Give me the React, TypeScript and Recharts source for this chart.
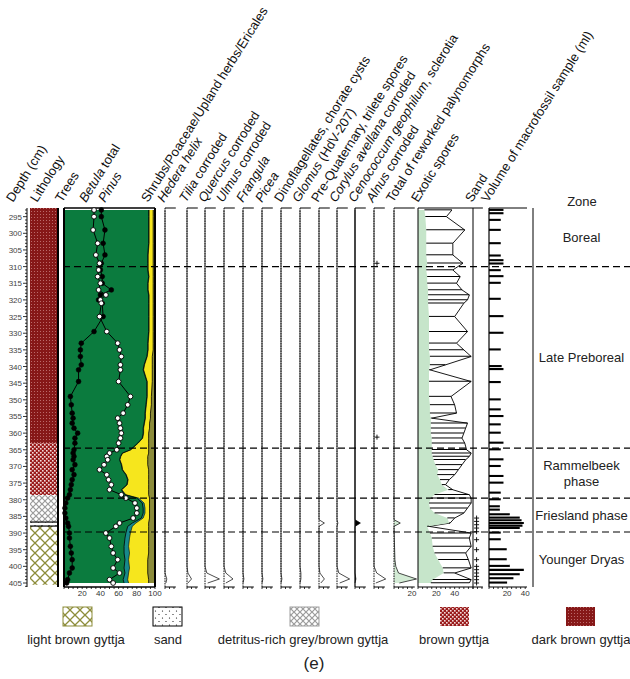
import React from 'react';
import {
  ComposedChart,
  XAxis,
  YAxis,
  Area,
  Line,
  Bar,
  Scatter,
  ReferenceLine
} from 'recharts';

const FONT = '"Liberation Sans", Arial, sans-serif';
const PLOT_TOP = 208;
const PLOT_H = 379;
const AX_TOP = 10;
const AX_BOT = 18;
const DEPTH_DOMAIN: [number, number] = [292.4, 406.2];

const GREEN = '#0b7b3e';
const TEAL = '#17898b';
const YELLOW = '#f6e61d';
const OLIVE = '#8b8b3a';
const MINT = '#c6e5ca';

// pollen samples (depth in cm, values in %)
const DEPTHS = [
  293, 295, 299, 303, 306.5, 309, 311, 313, 315, 317,
  318.5, 320, 321, 325, 329.5, 333, 335, 337, 339.5, 341,
  344.5, 349, 351.5, 354, 355.5, 357, 358.5, 360, 361.5, 363,
  365, 366, 367, 368, 369.5, 371, 372.5, 374, 375.5, 377,
  378.5, 379.5, 381, 382.5, 384, 385.5, 387, 388, 390, 391.5,
  394, 396, 398, 400.5, 402, 404, 405
];
const BETULA = [
  41, 41, 45, 43, 45, 41, 40, 42, 42, 52,
  40, 38, 42, 43, 33, 19, 18, 18, 19, 16,
  16, 7, 8, 9, 10, 9, 11, 15, 12, 12,
  11, 10, 11, 10, 12, 9, 11, 9, 8, 7,
  6, 4, 2, 1, 1, 2, 4, 5, 6, 6,
  7, 8, 9, 9, 6, 4, 3
];
const PINUS = [
  33, 33, 32, 37, 35, 39, 38, 37, 40, 38,
  46, 40, 41, 39, 47, 59, 61, 63, 62, 62,
  60, 73, 70, 65, 59, 61, 62, 63, 62, 60,
  58, 50, 47, 48, 44, 39, 47, 49, 52, 50,
  63, 68, 78, 80, 80, 76, 61, 57, 46, 50,
  52, 54, 59, 54, 61, 50, 54
];
const TREES = [
  93, 93, 93, 93, 92, 92, 92, 93, 92, 92,
  93, 93, 93, 93, 93, 92, 92, 91, 88, 87,
  91, 91, 90, 89, 89, 88, 87, 87, 86, 81,
  73, 64, 62, 61, 63, 64, 68, 70, 69, 63,
  67, 80, 86, 87, 87, 85, 75, 70, 68, 67,
  66, 66, 67, 66, 67, 65, 66
];
const SHRUB_CUM = [
  93.5, 93.5, 93.5, 93.5, 92.5, 92.5, 92.5, 93.5, 92.5, 92.5,
  93.5, 93.5, 93.5, 93.5, 93.5, 92.5, 92.5, 91.5, 88.5, 87.5,
  91.5, 91.5, 90.5, 89.5, 89.5, 88.5, 87.5, 87.5, 86.5, 81.5,
  73.5, 64.5, 62.5, 61.5, 63.5, 64.5, 68.5, 70.5, 69.5, 63.5,
  68, 82, 88, 89, 89, 87, 79, 75, 73, 72,
  71, 72, 71, 72, 71, 70, 71
];
const HERB_CUM = [
  98, 98, 98, 98, 98, 98, 98, 98, 98, 98,
  98, 98, 98, 98, 98, 98, 98, 97, 97, 97,
  97, 96, 96, 95, 95, 94, 94, 93, 93, 93,
  93, 93, 92, 92, 92, 93, 93, 93, 93, 93,
  93, 94, 94, 94, 94, 94, 93, 93, 93, 93,
  93, 93, 92, 92, 92, 93, 93
];
const EXOTIC = [
  7, 8, 9, 9, 9, 10, 9, 10, 10, 11,
  11, 11, 11, 12, 12, 12, 12, 13, 13, 12,
  12, 12, 13, 13, 14, 14, 14, 14, 15, 15,
  15, 15, 16, 17, 19, 22, 21, 24, 26, 33,
  18, 14, 12, 13, 18, 32, 34, 10, 13, 15,
  16, 18, 22, 27, 28, 16, 14
];
const EXAG = [
  37, 31, 51, 38, 38, 49, 38, 46, 42, 48,
  56, 54, 50, 40, 54, 42, 50, 58, 30, 13,
  58, 36, 40, 42, 15, 54, 52, 50, 48, 51,
  53, 58, 56, 52, 48, 44, 40, 34, 30, 38,
  56, 58, 58, 54, 50, 40, 35, 12, 58, 56,
  58, 52, 55, 58, 40, 58, 56
];

// macrofossil sample volume (ml)
const VOL_DEPTHS = [
  293, 294, 296, 299, 303, 306.7, 308.1, 309.1, 311.1, 312.9,
  314.9, 319.7, 324.9, 329.9, 334.9, 339.9, 340.8, 344.7, 349.9, 352.9,
  354.9, 357.4, 359.9, 362.9, 364.9, 367.9, 369.9, 372.9, 374.9, 377.9,
  379.9, 382, 383, 384.4, 385.4, 386.2, 387, 387.8, 388.5, 389.9,
  391.9, 394.9, 397.9, 399.9, 401.1, 402.4, 403.6, 404.9
];
const VOLUME = [
  16, 16, 13, 13, 13, 13, 16, 16, 13, 16,
  13, 13, 16, 16, 13, 14, 16, 13, 13, 13,
  16, 13, 13, 16, 13, 16, 13, 16, 16, 13,
  13, 12, 12, 23, 34, 36, 38.5, 37, 34, 13,
  13, 19.6, 19.6, 23, 38.5, 34, 27, 20
];

// minor taxa (%), on a shared depth grid
const SMALL_DEPTHS = [293, 386, 387, 388, 398, 400, 402, 403.8, 405];
const HEDERA = [0, 0, 0, 0, 0, 0, 0, 2, 1];
const TILIA = [0, 0, 0, 0, 0, 0, 1, 5, 1];
const QUERCUS = [0, 0, 0, 0, 0, 0, 2, 16, 3];
const ULMUS = [0, 0, 0, 0, 0, 0, 2, 10, 2];
const FRANGULA = [0, 0, 0, 0, 0, 0, 0, 1, 0];
const PICEA = [0, 0, 0, 0, 0, 0, 0, 1, 0];
const DINO = [0, 0, 0, 0, 0, 0, 0, 1, 0];
const GLOMUS = [0, 0, 0, 0, 0, 0, 1, 1, 0];
const PREQUAT = [0, 0, 6, 0, 0, 0, 1, 6, 2];
const CORYLUS = [0, 0, 1, 0, 0, 0, 2, 14, 3];
const CENO = [0, 0, 6, 0, 0, 0, 0, 1, 0];
const ALNUS = [0, 0, 0, 0, 0, 0, 3, 13, 2];
const REWORKED = [0, 0, 7, 0, 1, 2, 5, 25, 6];
const ALNUS_PLUS = [309, 361.2];
const SAND_PLUS = [385.5, 386.5, 387.5, 388.5, 389.6, 392, 395, 398, 400, 401, 402, 403, 404, 405];

const LITHO_TOP = [292.4, 363, 378.6, 386.7, 387.9];
const LITHO_BOTTOM = [363, 378.6, 386.7, 387.9, 405.5];
const LITHO_TYPE = ['dark', 'brown', 'detritus', 'sand', 'light'];

const ZONE_BOUNDS = [310, 364.5, 379.5, 389.7];
const ZONE_NAMES = ['Boreal', 'Late Preboreal', 'Rammelbeek\nphase', 'Friesland phase', 'Younger Dryas'];

const DEPTH_LABELS = [
  295, 300, 305, 310, 315, 320, 325, 330, 335, 340, 345, 350,
  355, 360, 365, 370, 375, 380, 385, 390, 395, 400, 405
];
const DEPTH_MINOR = Array.from({ length: 114 }, (_, i) => 293 + i);
const TREE_TICKS = [0, 5, 10, 15, 20, 25, 30, 35, 40, 45, 50, 55, 60, 65, 70, 75, 80, 85, 90, 95, 100];
const TREE_LABELS = [20, 40, 60, 80, 100];
const EXO_TICKS = [0, 5, 10, 15, 20, 25, 30, 35, 40, 45, 50, 55, 60];
const VOL_TICKS = [0, 5, 10, 15, 20, 25, 30, 35, 40];
const PAIR_LABELS = [20, 40];
const SMALL_TICKS = [0, 5, 10];
const REWORK_TICKS = [0, 5, 10, 15, 20];

const HEADERS: [string, boolean][][] = [
  [['Depth (cm)', false]],
  [['Lithology', false]],
  [['Trees', false]],
  [['Betula', true], [' total', false]],
  [['Pinus', true]],
  [['Shrubs/Poaceae/Upland herbs/Ericales', false]],
  [['Hedera helix', true]],
  [['Tilia', true], [' corroded', false]],
  [['Quercus', true], [' corroded', false]],
  [['Ulmus', true], [' corroded', false]],
  [['Frangula', true]],
  [['Picea', true]],
  [['Dinoflagellates, chorate cysts', false]],
  [['Glomus', true], [' (HdV-207)', false]],
  [['Pre-Quaternary, trilete spores', false]],
  [['Corylus avellana', true], [' corroded', false]],
  [['Cenococcum geophilum', true], [', sclerotia', false]],
  [['Alnus', true], [' corroded', false]],
  [['Total of reworked palynomorphs', false]],
  [['Exotic spores', false]],
  [['Sand', false]],
  [['Volume of macrofossil sample (ml)', false]]
];
const HEADER_X = [13, 37, 62, 86, 105, 148, 164, 186, 205, 223, 243, 262, 281, 299, 318, 336, 355, 373, 393, 418, 472, 488];

const LEGEND_NAMES = ['light brown gyttja', 'sand', 'detritus-rich grey/brown gyttja', 'brown gyttja', 'dark brown gyttja'];
const LEGEND_TYPE = ['light', 'sand', 'detritus', 'brown', 'dark'];
const LEGEND_BOX_X = [63, 153, 290, 440, 566];
const LEGEND_TEXT_X = [76, 168, 303, 454, 581];
const LEGEND_BORDER: Record<string, string> = {
  light: '#8d8d3b', sand: '#000', detritus: '#a0a0a0', brown: 'none', dark: 'none'
};
const PATTERN: Record<string, string> = {
  light: 'url(#pLight)', sand: 'url(#pSand)', detritus: 'url(#pDetritus)', brown: 'url(#pBrown)', dark: 'url(#pDark)'
};

const SMALL_LEFT = [165, 186.5, 205, 224, 243, 262, 281, 299.5, 318.5, 337, 355, 374, 393.5];
const SMALL_SERIES = [HEDERA, TILIA, QUERCUS, ULMUS, FRANGULA, PICEA, DINO, GLOMUS, PREQUAT, CORYLUS, CENO, ALNUS, REWORKED];

const SAMPLES = DEPTHS.map((depth, i) => ({
  depth,
  betula: BETULA[i],
  pinus: PINUS[i],
  trees: TREES[i],
  shrubCum: SHRUB_CUM[i],
  herbCum: HERB_CUM[i],
  total: 100,
  exotic: EXOTIC[i],
  exag: EXAG[i],
  exoRange: [EXOTIC[i], EXAG[i]]
}));
const VOL_DATA = VOL_DEPTHS.map((depth, i) => ({ depth, vol: VOLUME[i] }));

// a horizontal segment at one depth, in the x units of a panel
const hSeg = (depth: number, x0: number, x1: number) => [{ depth, x: x0 }, { depth, x: x1 }];

function PlusShape(props: any) {
  const { cx, cy } = props;
  if (cx == null || cy == null) return null;
  return (
    <path d={`M${cx - 2.5},${cy}h5M${cx},${cy - 2.5}v5`} stroke="#000" strokeWidth={0.9} fill="none" />
  );
}

function ZoneText(props: any) {
  const { cx, cy, payload } = props;
  if (cx == null || cy == null) return null;
  const lines = String(payload.name).split('\n');
  return (
    <text x={cx} y={cy} textAnchor="middle" fontSize={13} fill="#222" fontFamily={FONT}>
      {lines.map((l: string, i: number) => (
        <tspan key={i} x={cx} dy={i === 0 ? 4.5 - (lines.length - 1) * 8 : 16}>
          {l}
        </tspan>
      ))}
    </text>
  );
}

function DepthTick(props: any) {
  const { y, payload } = props;
  const major = DEPTH_LABELS.includes(payload.value);
  return (
    <g>
      <line x1={major ? 23 : 25} x2={27} y1={y} y2={y} stroke="#000" strokeWidth={0.8} />
      {major && (
        <text x={22} y={y} dy={3} textAnchor="end" fontSize={8} fill="#444" fontFamily={FONT}>
          {payload.value}
        </text>
      )}
    </g>
  );
}

interface PanelProps {
  left: number;
  width: number;
  domain: [number, number];
  data?: any[];
  ticks?: number[];
  labels?: number[];
  top?: boolean;
  bottom?: boolean;
  axisLine?: boolean;
  axisWidth?: number;
  children?: React.ReactNode;
}

function Panel({
  left, width, domain, data = SAMPLES, ticks, labels = [], top = true, bottom = true,
  axisLine = true, axisWidth = 1, children
}: PanelProps) {
  const fmt = (v: number) => (labels.includes(v) ? String(v) : '');
  return (
    <div style={{ position: 'absolute', left, top: PLOT_TOP - AX_TOP }}>
      <ComposedChart
        layout="vertical"
        width={width}
        height={AX_TOP + PLOT_H + AX_BOT}
        data={data}
        margin={{ top: top ? 0 : AX_TOP, right: 0, bottom: bottom ? 0 : AX_BOT, left: 0 }}
      >
        <XAxis
          type="number"
          domain={domain}
          ticks={ticks}
          interval={0}
          hide={!bottom}
          height={AX_BOT}
          tickFormatter={fmt}
          tickSize={2}
          tickMargin={1}
          tick={{ fontSize: 8, fill: '#333', fontFamily: FONT }}
          axisLine={axisLine ? { stroke: '#000', strokeWidth: axisWidth } : false}
          tickLine={{ stroke: '#000', strokeWidth: 0.8 }}
        />
        <XAxis
          xAxisId="t"
          orientation="top"
          type="number"
          domain={domain}
          ticks={ticks}
          interval={0}
          hide={!top}
          height={AX_TOP}
          tick={false}
          tickSize={2}
          axisLine={axisLine ? { stroke: '#000', strokeWidth: axisWidth } : false}
          tickLine={{ stroke: '#000', strokeWidth: 0.8 }}
        />
        <YAxis type="number" dataKey="depth" domain={DEPTH_DOMAIN} hide />
        {children}
      </ComposedChart>
    </div>
  );
}

function SmallPanel({ left, values, fill, ticks = SMALL_TICKS, labels = [], axisEnd = 12, plus, solid = false }: {
  left: number; values: number[]; fill: string; ticks?: number[]; labels?: number[]; axisEnd?: number; plus?: number[]; solid?: boolean;
}) {
  const data = SMALL_DEPTHS.map((depth, i) => ({ depth, v: values[i] }));
  return (
    <Panel left={left} width={30} domain={[0, 33.3]} data={data} ticks={ticks} labels={labels} axisLine={false}>
      <ReferenceLine x={0} stroke="#111" strokeWidth={solid ? 1.3 : 1} strokeDasharray={solid ? undefined : '1.6 0.9'} />
      <Line data={hSeg(DEPTH_DOMAIN[0], 0, axisEnd)} dataKey="x" stroke="#000" strokeWidth={1} dot={false} isAnimationActive={false} />
      <Line data={hSeg(DEPTH_DOMAIN[1], 0, axisEnd)} dataKey="x" stroke="#000" strokeWidth={1} dot={false} isAnimationActive={false} />
      <Area type="linear" dataKey="v" fill={fill} fillOpacity={1} stroke="#000" strokeWidth={0.7} isAnimationActive={false} />
      {plus && (
        <Scatter
          data={plus.map((depth) => ({ depth, px: 3.3 }))}
          dataKey="px"
          shape={PlusShape}
          isAnimationActive={false}
        />
      )}
    </Panel>
  );
}

export default function App() {
  const zoneTops = [DEPTH_DOMAIN[0], ...ZONE_BOUNDS];
  const zoneBottoms = [...ZONE_BOUNDS, DEPTH_DOMAIN[1]];
  const zoneLabels = ZONE_NAMES.map((name, i) => ({ name, depth: (zoneTops[i] + zoneBottoms[i]) / 2, px: 0.5 }));

  return (
    <div style={{ position: 'absolute', left: 0, top: 0, width: 630, height: 679, background: '#fff', fontFamily: FONT }}>
      <style>{'.recharts-surface{overflow:visible}'}</style>

      {/* headers, legend and patterns */}
      <svg width={630} height={679} style={{ position: 'absolute', left: 0, top: 0 }}>
        <defs>
          <pattern id="pDark" width="3" height="3" patternUnits="userSpaceOnUse">
            <rect width="3" height="3" fill="#861818" />
            <rect x="1" y="1" width="1" height="1" fill="#bb6a6a" />
          </pattern>
          <pattern id="pBrown" width="4" height="4" patternUnits="userSpaceOnUse">
            <rect width="4" height="4" fill="#9a1c1c" />
            <rect x="0" y="0" width="1.6" height="1.6" fill="#f3dcdc" />
            <rect x="2" y="2" width="1.6" height="1.6" fill="#f3dcdc" />
          </pattern>
          <pattern id="pDetritus" width="6" height="6" patternUnits="userSpaceOnUse">
            <rect width="6" height="6" fill="#fff" />
            <path d="M0,0L6,6M6,0L0,6" stroke="#9b9b9b" strokeWidth="1.2" />
          </pattern>
          <pattern id="pLight" width="10" height="10" patternUnits="userSpaceOnUse">
            <rect width="10" height="10" fill="#fff" />
            <path d="M0,0L10,10M10,0L0,10" stroke="#8d8d3b" strokeWidth="1.3" />
          </pattern>
          <pattern id="pSand" width="7" height="7" patternUnits="userSpaceOnUse">
            <rect width="7" height="7" fill="#fff" />
            <circle cx="1.5" cy="2" r="0.6" fill="#000" />
            <circle cx="5" cy="5.5" r="0.6" fill="#000" />
          </pattern>
        </defs>

        {HEADERS.map((parts, i) => (
          <text
            key={i}
            x={HEADER_X[i]}
            y={203}
            transform={`rotate(-58 ${HEADER_X[i]} 203)`}
            fontSize={13}
            fill="#111"
            fontFamily={FONT}
          >
            {parts.map(([t, it], j) => (
              <tspan key={j} fontStyle={it ? 'italic' : 'normal'}>{t}</tspan>
            ))}
          </text>
        ))}
        <text x={582} y={205.5} textAnchor="middle" fontSize={13} fill="#222" fontFamily={FONT}>Zone</text>

        {LEGEND_NAMES.map((name, i) => (
          <g key={name}>
            <rect
              x={LEGEND_BOX_X[i]}
              y={607}
              width={29}
              height={19}
              fill={PATTERN[LEGEND_TYPE[i]]}
              stroke={LEGEND_BORDER[LEGEND_TYPE[i]]}
              strokeWidth={1}
            />
            <text x={LEGEND_TEXT_X[i]} y={643.5} textAnchor="middle" fontSize={13} fill="#222" fontFamily={FONT}>
              {name}
            </text>
          </g>
        ))}
        <text x={314} y={669} textAnchor="middle" fontSize={17} fill="#222" fontFamily={FONT}>(e)</text>
      </svg>

      {/* depth axis */}
      <div style={{ position: 'absolute', left: 0, top: PLOT_TOP - AX_TOP }}>
        <ComposedChart
          layout="vertical"
          width={28}
          height={AX_TOP + PLOT_H + AX_BOT}
          data={SAMPLES}
          margin={{ top: AX_TOP, right: 0, bottom: AX_BOT, left: 0 }}
        >
          <XAxis type="number" domain={[0, 1]} hide />
          <YAxis
            type="number"
            dataKey="depth"
            domain={DEPTH_DOMAIN}
            ticks={DEPTH_MINOR}
            interval={0}
            width={27}
            tick={DepthTick}
            tickLine={false}
            axisLine={{ stroke: '#000' }}
          />
        </ComposedChart>
      </div>

      {/* lithology */}
      <Panel left={30} width={28} domain={[0, 1]} top={false} bottom={false}>
        {LITHO_TYPE.map((t, i) => (
          <Area
            key={i}
            type="linear"
            data={[{ depth: LITHO_TOP[i], x: 1 }, { depth: LITHO_BOTTOM[i], x: 1 }]}
            dataKey="x"
            baseValue={0}
            fill={PATTERN[t]}
            fillOpacity={1}
            stroke="none"
            isAnimationActive={false}
          />
        ))}
        <Line data={hSeg(LITHO_TOP[3], 0, 1)} dataKey="x" stroke="#000" strokeWidth={1.2} dot={false} isAnimationActive={false} />
        <Line data={hSeg(LITHO_BOTTOM[3], 0, 1)} dataKey="x" stroke="#000" strokeWidth={1.2} dot={false} isAnimationActive={false} />
        <ReferenceLine x={1} stroke="#000" strokeWidth={2} />
      </Panel>

      {/* trees / shrubs / herbs with Betula and Pinus curves */}
      <Panel left={64} width={91} domain={[0, 100]} ticks={TREE_TICKS} labels={TREE_LABELS} axisWidth={1.6}>
        <Area type="linear" dataKey="total" fill={OLIVE} fillOpacity={1} stroke="none" isAnimationActive={false} />
        <Area type="linear" dataKey="herbCum" fill={YELLOW} fillOpacity={1} stroke="#000" strokeWidth={0.8} isAnimationActive={false} />
        <Area type="linear" dataKey="shrubCum" fill={TEAL} fillOpacity={1} stroke="#000" strokeWidth={0.6} isAnimationActive={false} />
        <Area type="linear" dataKey="trees" fill={GREEN} fillOpacity={1} stroke="#000" strokeWidth={0.8} isAnimationActive={false} />
        <ReferenceLine x={0} stroke="#000" strokeWidth={2} />
        <ReferenceLine x={100} stroke="#000" strokeWidth={2} />
        <Line
          type="linear"
          dataKey="betula"
          stroke="#000"
          strokeWidth={1}
          dot={{ r: 2.4, fill: '#000', stroke: '#000', strokeWidth: 0.6 }}
          isAnimationActive={false}
        />
        <Line
          type="linear"
          dataKey="pinus"
          stroke="#000"
          strokeWidth={1}
          dot={{ r: 2.4, fill: '#fff', stroke: '#000', strokeWidth: 0.9 }}
          isAnimationActive={false}
        />
      </Panel>

      {/* minor taxa */}
      {SMALL_SERIES.map((values, i) => {
        const last = i === SMALL_SERIES.length - 1;
        return (
          <SmallPanel
            key={i}
            left={SMALL_LEFT[i]}
            values={values}
            fill={values === CENO ? '#000' : last ? '#d3ebd5' : '#fff'}
            ticks={last ? REWORK_TICKS : SMALL_TICKS}
            labels={last ? [20] : []}
            axisEnd={last ? 23 : 12}
            plus={values === ALNUS ? ALNUS_PLUS : undefined}
            solid={values === CENO}
          />
        );
      })}

      {/* exotic spores */}
      <Panel left={418} width={55} domain={[0, 60]} ticks={EXO_TICKS} labels={PAIR_LABELS}>
        <Area type="linear" dataKey="exag" fill="#fff" fillOpacity={1} stroke="#000" strokeWidth={0.9} isAnimationActive={false} />
        <Area type="linear" dataKey="exotic" fill={MINT} fillOpacity={1} stroke="none" isAnimationActive={false} />
        <Bar dataKey="exoRange" fill="#000" barSize={1} isAnimationActive={false} />
        <ReferenceLine x={0} stroke="#000" />
        <ReferenceLine x={60} stroke="#000" />
      </Panel>

      {/* sand */}
      <Panel left={473} width={15} domain={[0, 16.7]} ticks={SMALL_TICKS} axisLine={false}>
        <Line data={hSeg(DEPTH_DOMAIN[0], 0, 11)} dataKey="x" stroke="#000" strokeWidth={1} dot={false} isAnimationActive={false} />
        <Line data={hSeg(DEPTH_DOMAIN[1], 0, 11)} dataKey="x" stroke="#000" strokeWidth={1} dot={false} isAnimationActive={false} />
        <Scatter
          data={SAND_PLUS.map((depth) => ({ depth, px: 4 }))}
          dataKey="px"
          shape={PlusShape}
          isAnimationActive={false}
        />
      </Panel>

      {/* macrofossil volume */}
      <Panel left={489} width={38} domain={[0, 42]} data={VOL_DATA} ticks={VOL_TICKS} labels={PAIR_LABELS}>
        <Bar dataKey="vol" fill="#000" barSize={3} isAnimationActive={false} />
        <ReferenceLine x={0} stroke="#000" strokeWidth={1.2} />
      </Panel>

      {/* zones */}
      <Panel left={533} width={97} domain={[0, 1]} top={false} bottom={false}>
        <ReferenceLine x={0} stroke="#000" strokeWidth={1} />
        <Scatter data={zoneLabels} dataKey="px" shape={ZoneText} isAnimationActive={false} />
      </Panel>

      {/* dashed zone boundaries across the diagram */}
      <Panel left={63} width={567} domain={[0, 1]} top={false} bottom={false}>
        {ZONE_BOUNDS.map((d) => (
          <Line
            key={d}
            data={hSeg(d, 0, 1)}
            dataKey="x"
            stroke="#000"
            strokeWidth={1.1}
            strokeDasharray="7 4"
            dot={false}
            isAnimationActive={false}
          />
        ))}
      </Panel>
    </div>
  );
}
